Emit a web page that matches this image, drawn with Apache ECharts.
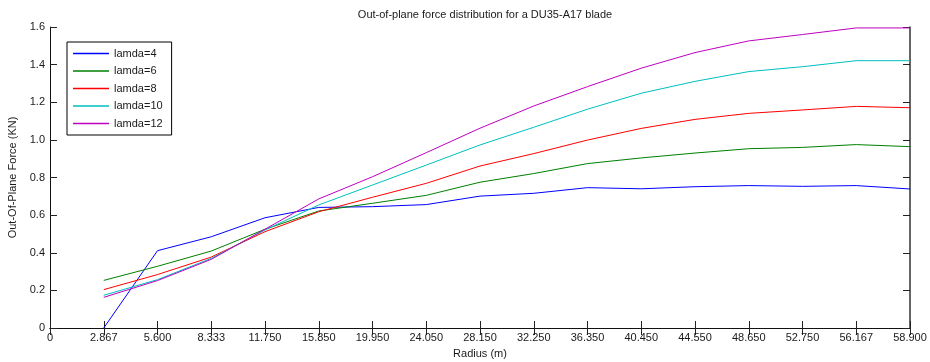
<!DOCTYPE html>
<html>
<head>
<meta charset="utf-8">
<script src="https://cdn.jsdelivr.net/npm/echarts@6/dist/echarts.min.js"></script>
<style>
  html, body { margin: 0; padding: 0; background: #fff; }
  #chart { width: 930px; height: 362px; }
</style>
</head>
<body>
<div id="chart"></div>
<script>
// Radius stations along the blade (tick labels of the x axis)
const radiusLabels = ['0', '2.867', '5.600', '8.333', '11.750', '15.850', '19.950', '24.050',
  '28.150', '32.250', '36.350', '40.450', '44.550', '48.650', '52.750', '56.167', '58.900'];

// Out-of-plane force (KN) at each station from 2.867 m to 58.900 m
const lamda4  = [0.000, 0.411, 0.485, 0.586, 0.641, 0.645, 0.656, 0.701, 0.716, 0.746, 0.740, 0.751, 0.757, 0.753, 0.757, 0.739];
const lamda6  = [0.253, 0.328, 0.409, 0.525, 0.622, 0.663, 0.705, 0.775, 0.821, 0.874, 0.904, 0.930, 0.953, 0.960, 0.975, 0.964];
const lamda8  = [0.204, 0.284, 0.377, 0.512, 0.618, 0.695, 0.769, 0.861, 0.927, 0.999, 1.061, 1.109, 1.141, 1.159, 1.178, 1.171];
const lamda10 = [0.174, 0.257, 0.370, 0.521, 0.654, 0.760, 0.866, 0.973, 1.067, 1.163, 1.248, 1.311, 1.363, 1.389, 1.421, 1.421];
const lamda12 = [0.163, 0.252, 0.365, 0.525, 0.686, 0.804, 0.932, 1.062, 1.180, 1.283, 1.381, 1.464, 1.526, 1.560, 1.595, 1.595];

const seriesNames  = ['lamda=4', 'lamda=6', 'lamda=8', 'lamda=10', 'lamda=12'];
const seriesValues = [lamda4, lamda6, lamda8, lamda10, lamda12];
const seriesColors = ['#0000ff', '#008000', '#ff0000', '#00bfbf', '#bf00bf'];

const FONT = 'Liberation Sans, Arial, sans-serif';
const TXT = '#1a1a1a';

const chart = echarts.init(document.getElementById('chart'), null, { renderer: 'canvas' });

const tickStyle = { show: true, inside: true, length: 7, lineStyle: { color: '#222', width: 1 } };
const lineStyleAxis = { show: true, lineStyle: { color: '#111', width: 1 } };

// plain line sample for legend entries
const LEGEND_LINE = 'path://M0,0H36V1.3H0Z';

chart.setOption({
  animation: false,
  backgroundColor: '#ffffff',
  title: {
    text: 'Out-of-plane force distribution for a DU35-A17 blade',
    left: 480, top: 4, textAlign: 'center',
    textStyle: { fontFamily: FONT, fontSize: 11, fontWeight: 'normal', color: TXT }
  },
  legend: {
    orient: 'vertical',
    left: 67, top: 42,
    itemWidth: 36, itemHeight: 11, itemGap: 6.5,
    padding: [6, 9, 6, 6],
    borderColor: '#000', borderWidth: 1,
    backgroundColor: '#fff',
    textStyle: { fontFamily: FONT, fontSize: 11, color: TXT },
    data: seriesNames.map(name => ({ name, icon: LEGEND_LINE }))
  },
  grid: {
    left: 50, right: 20, top: 27, bottom: 34,
    containLabel: false, outerBoundsMode: 'none'
  },
  xAxis: [
    {
      type: 'category', data: radiusLabels, boundaryGap: false,
      name: 'Radius (m)', nameLocation: 'middle', nameGap: 20,
      nameTextStyle: { fontFamily: FONT, fontSize: 11, color: TXT },
      axisLine: lineStyleAxis, axisTick: tickStyle,
      axisLabel: { fontFamily: FONT, fontSize: 11, color: TXT, margin: 4, interval: 0 },
      splitLine: { show: false }
    },
    {
      type: 'category', data: radiusLabels, boundaryGap: false, position: 'top',
      axisLine: lineStyleAxis, axisTick: tickStyle,
      axisLabel: { show: false }, splitLine: { show: false }
    }
  ],
  yAxis: [
    {
      type: 'value', min: 0, max: 1.6, interval: 0.2,
      name: 'Out-Of-Plane Force (KN)', nameLocation: 'middle', nameGap: 18,
      nameTextStyle: { fontFamily: FONT, fontSize: 11, color: TXT },
      axisLine: lineStyleAxis, axisTick: tickStyle,
      axisLabel: {
        fontFamily: FONT, fontSize: 11, color: TXT, margin: 5,
        formatter: v => (v === 0 ? '0' : v.toFixed(1))
      },
      splitLine: { show: false }
    },
    {
      type: 'value', min: 0, max: 1.6, interval: 0.2, position: 'right',
      axisLine: { show: true, lineStyle: { color: '#333', width: 1.5 } }, axisTick: tickStyle,
      axisLabel: { show: false }, splitLine: { show: false }
    }
  ],
  series: seriesNames.map((name, k) => ({
    name,
    type: 'line',
    xAxisIndex: 0, yAxisIndex: 0,
    data: [null].concat(seriesValues[k]),
    symbol: 'none',
    connectNulls: false,
    color: seriesColors[k],
    lineStyle: { color: seriesColors[k], width: 1 },
    clip: false
  }))
});
</script>
</body>
</html>
